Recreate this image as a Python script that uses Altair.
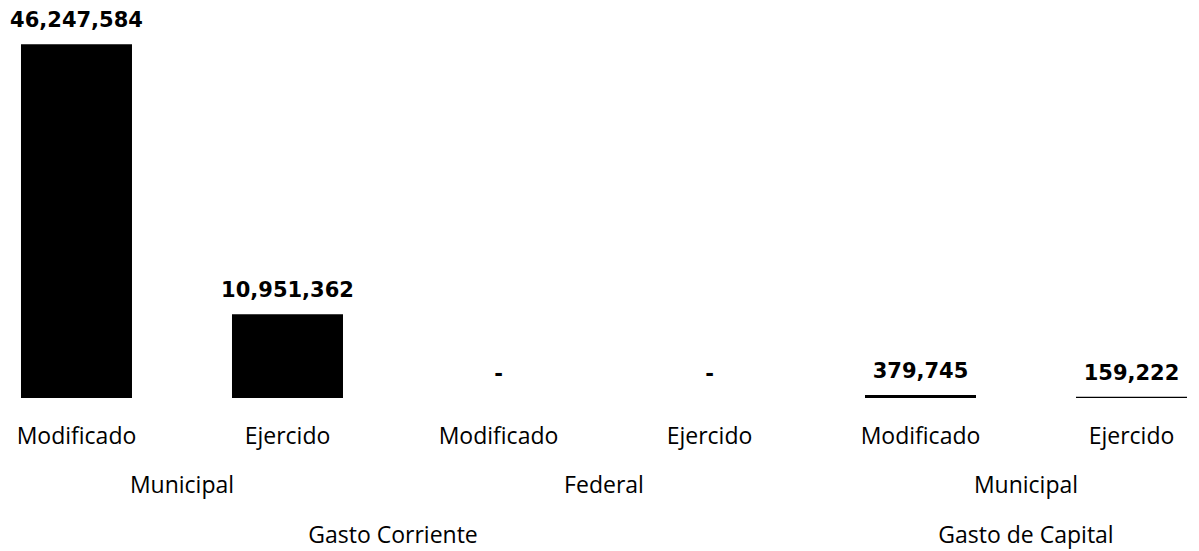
import altair as alt
import pandas as pd

# ---- data ----
bar_index = [0, 1, 2, 3, 4, 5]
level1 = ["Modificado", "Ejercido", "Modificado", "Ejercido", "Modificado", "Ejercido"]
values = [46247584, 10951362, 0, 0, 379745, 159222]

level2 = ["Municipal", "Federal", "Municipal"]
level2_first = [0, 2, 4]
level2_last = [1, 3, 5]

level3 = ["Gasto Corriente", "Gasto de Capital"]
level3_first = [0, 4]
level3_last = [3, 5]

bars = pd.DataFrame({
    "idx": bar_index,
    "cat": level1,
    "value": values,
    "label": [f"{v:,}" if v else "-" for v in values],
})
g2 = pd.DataFrame({"name": level2, "first": level2_first, "last": level2_last})
g3 = pd.DataFrame({"name": level3, "first": level3_first, "last": level3_last})

CAT_FONT = "Open Sans"
VAL_FONT = "DejaVu Sans"
xscale = alt.Scale(domain=[-0.3246, 5.282], nice=False, zero=False, padding=0)
yscale = alt.Scale(domain=[0, 51000000], nice=False)

x_enc = alt.X("idx:Q", scale=xscale, axis=None)

bar = alt.Chart(bars).mark_bar(color="#000000", size=111).encode(
    x=x_enc,
    y=alt.Y("value:Q", scale=yscale, axis=None),
)

vals = alt.Chart(bars).mark_text(
    font=VAL_FONT, fontSize=21, fontWeight="bold", color="#000000",
    baseline="middle", dy=-23,
).encode(
    x=x_enc,
    y=alt.Y("value:Q", scale=yscale, axis=None),
    text="label:N",
)

row1 = alt.Chart(bars).mark_text(
    font=CAT_FONT, fontSize=23, color="#000000", baseline="middle",
).encode(x=x_enc, y=alt.value(429), text="cat:N")

row2 = alt.Chart(g2).transform_calculate(
    center="(datum.first + datum.last) / 2"
).mark_text(
    font=CAT_FONT, fontSize=23, color="#000000", baseline="middle",
).encode(
    x=alt.X("center:Q", scale=xscale, axis=None),
    y=alt.value(478),
    text="name:N",
)

row3 = alt.Chart(g3).transform_calculate(
    center="(datum.first + datum.last) / 2"
).mark_text(
    font=CAT_FONT, fontSize=23, color="#000000", baseline="middle",
).encode(
    x=alt.X("center:Q", scale=xscale, axis=None),
    y=alt.value(528),
    text="name:N",
)

chart = alt.layer(bar, vals, row1, row2, row3).properties(
    width=1183,
    height=390,
    background="white",
    autosize=alt.AutoSizeParams(type="none"),
    padding={"left": 0, "top": 0, "right": 0, "bottom": 160},
).configure_view(strokeWidth=0, stroke="transparent")

chart.save("out.html", embed_options={"renderer": "svg", "actions": False})
